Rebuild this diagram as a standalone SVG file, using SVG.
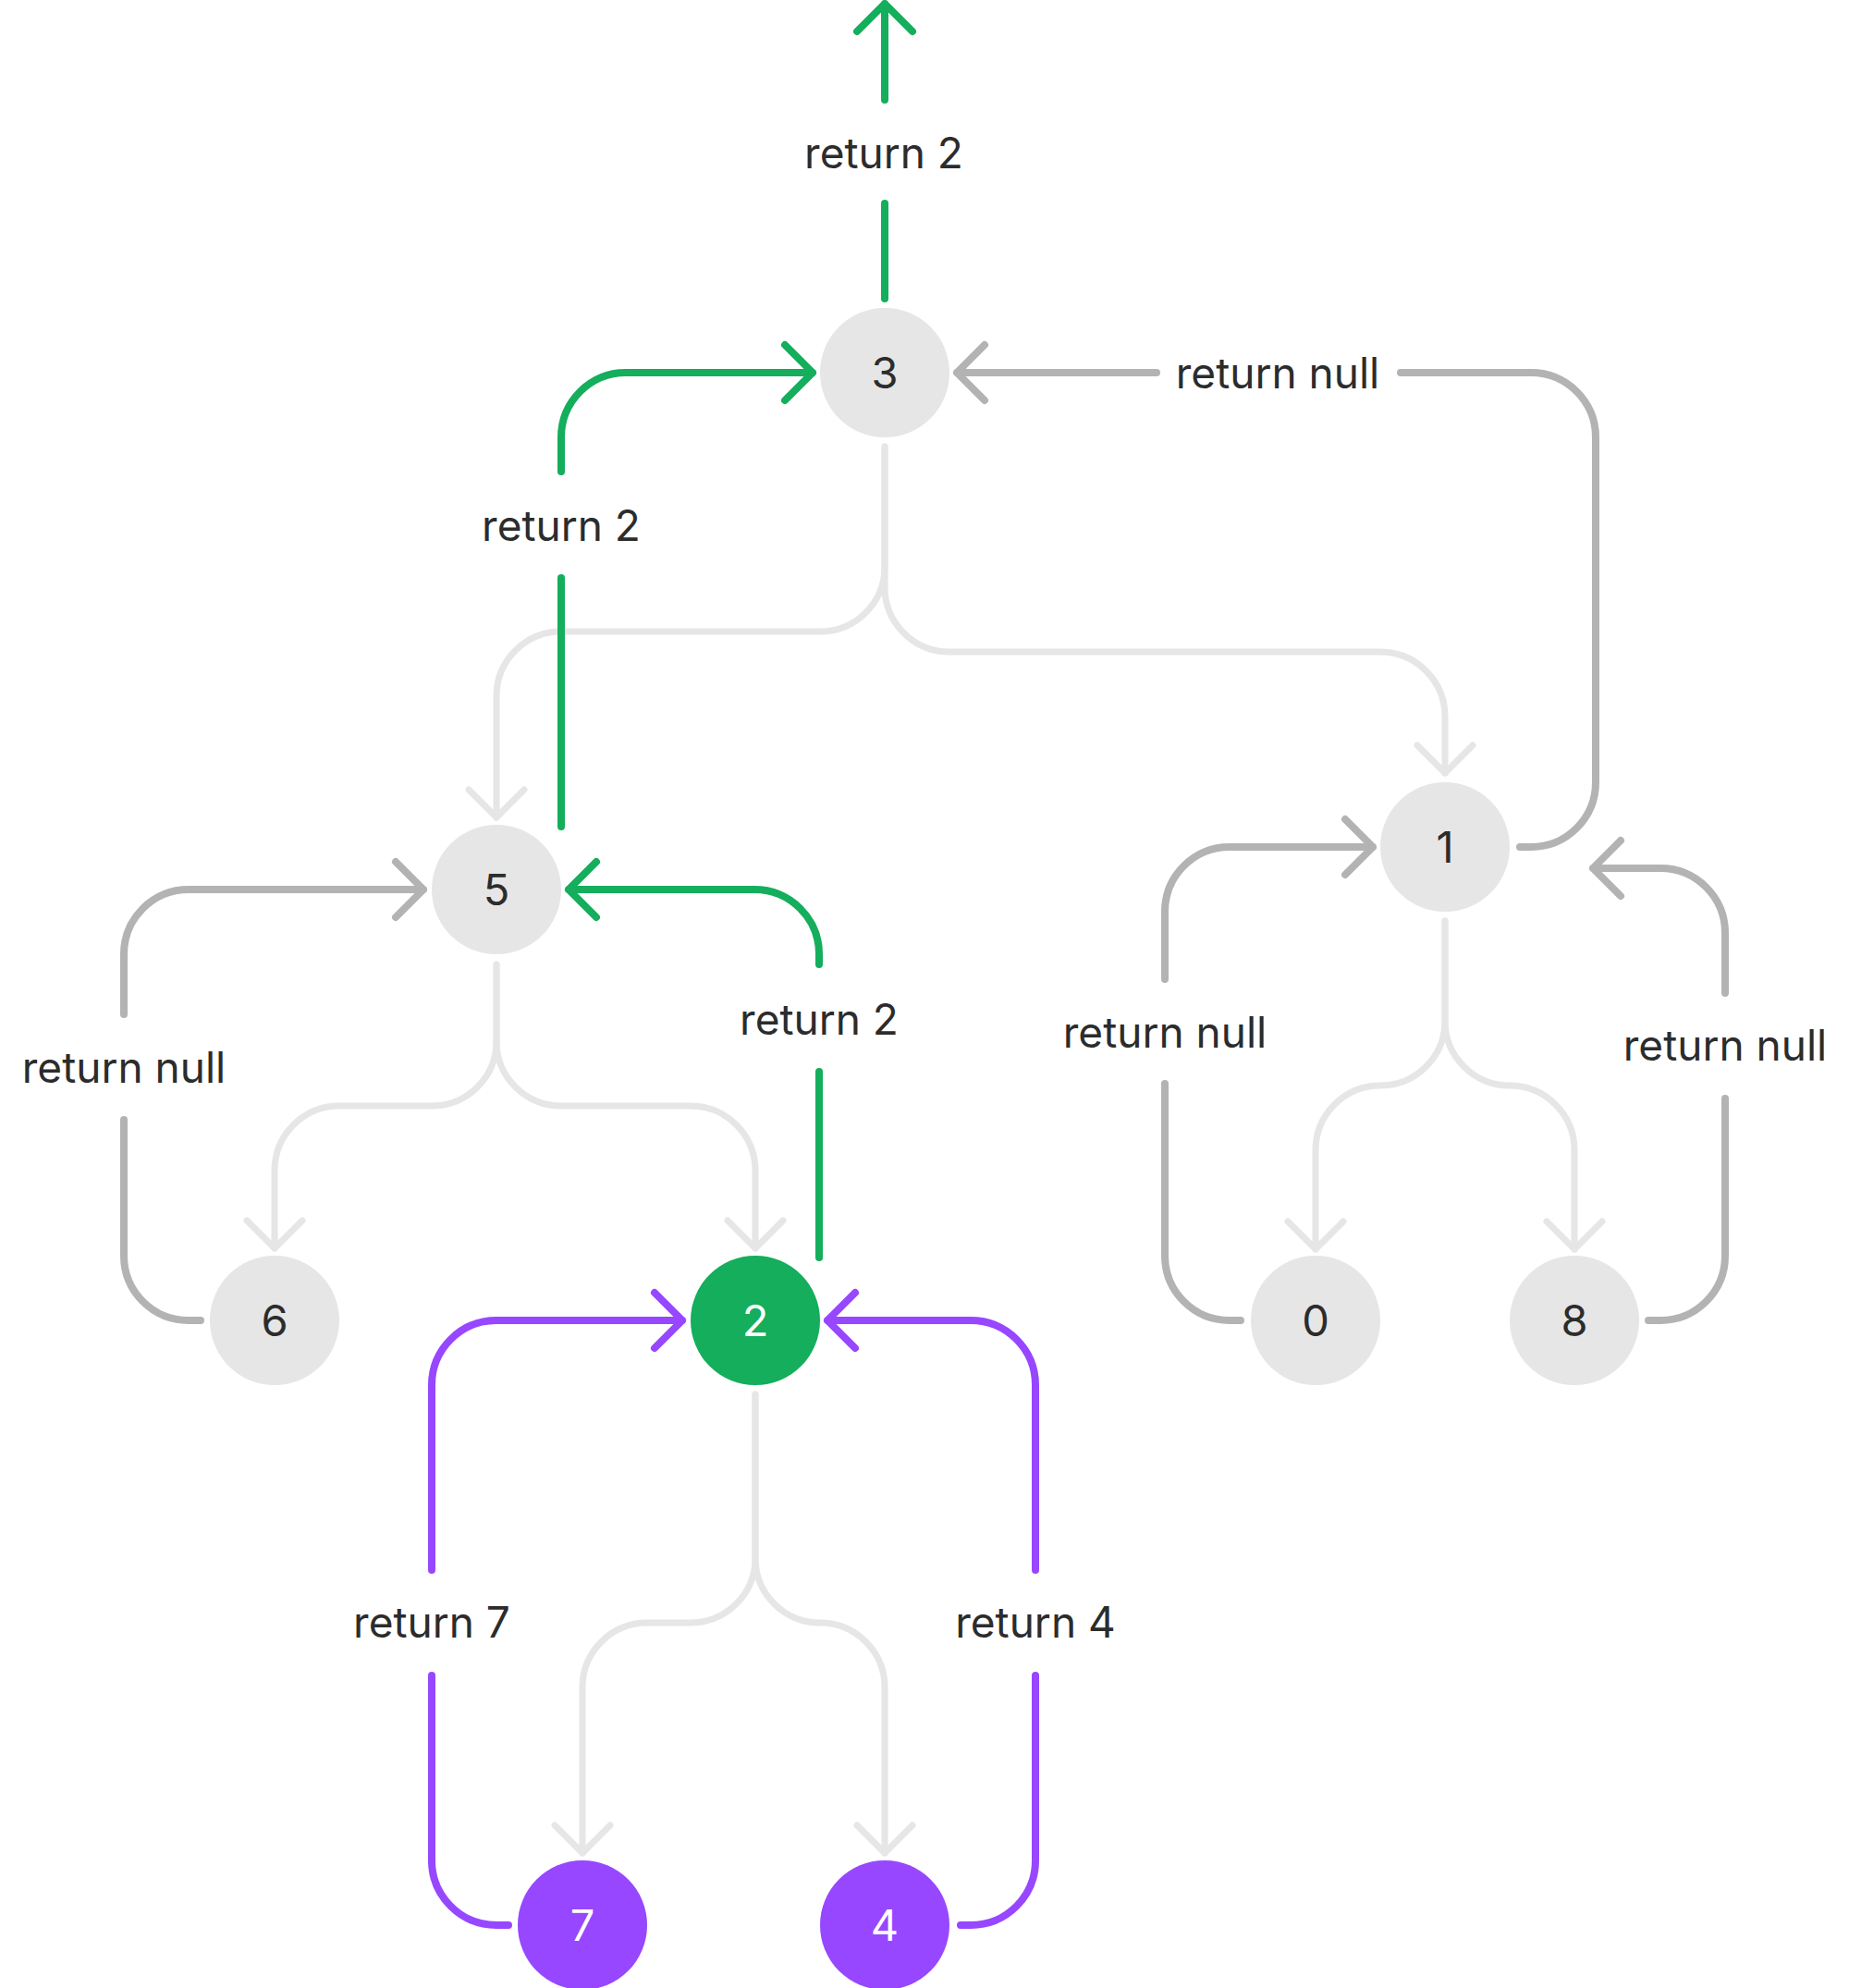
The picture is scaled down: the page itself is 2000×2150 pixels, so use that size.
<svg xmlns="http://www.w3.org/2000/svg" width="2000" height="2150" viewBox="0 0 2000 2150">
<style>
.tree{fill:none;stroke:#E6E6E6;stroke-width:7;stroke-linecap:round;stroke-linejoin:round}
.ret{fill:none;stroke-width:8;stroke-linecap:round;stroke-linejoin:round}
.g{stroke:#14AE5C}.p{stroke:#9747FF}.n{stroke:#B3B3B3}
.lbl{font-family:Inter,"Noto Sans","Liberation Sans",sans-serif;font-size:46px;fill:#2C2C2C;text-anchor:middle}
.node circle{fill:#E6E6E6}
.node text{font-family:Inter,"Noto Sans","Liberation Sans",sans-serif;font-size:47px;fill:#2C2C2C;text-anchor:middle}
.node.green circle{fill:#14AE5C}.node.purple circle{fill:#9747FF}
.node.green text,.node.purple text{fill:#FFFFFF}
</style>
<rect width="2000" height="2150" fill="#FFFFFF"/>
<g id="connectors">
<path class="tree" d="M957,483 V613 A70,70 0 0 1 887,683 H607 A70,70 0 0 0 537,753 V884"/>
<path class="tree" d="M507,854 L537,884 L567,854"/>
<path class="tree" d="M957,483 V635 A70,70 0 0 0 1027,705 H1493 A70,70 0 0 1 1563,775 V836"/>
<path class="tree" d="M1533,806 L1563,836 L1593,806"/>
<path class="tree" d="M537,1043 V1126 A70,70 0 0 1 467,1196 H367 A70,70 0 0 0 297,1266 V1350"/>
<path class="tree" d="M267,1320 L297,1350 L327,1320"/>
<path class="tree" d="M537,1043 V1126 A70,70 0 0 0 607,1196 H747 A70,70 0 0 1 817,1266 V1350"/>
<path class="tree" d="M787,1320 L817,1350 L847,1320"/>
<path class="tree" d="M1563,996 V1104 A70,70 0 0 1 1493,1174 A70,70 0 0 0 1423,1244 V1351"/>
<path class="tree" d="M1393,1321 L1423,1351 L1453,1321"/>
<path class="tree" d="M1563,996 V1104 A70,70 0 0 0 1633,1174 A70,70 0 0 1 1703,1244 V1351"/>
<path class="tree" d="M1673,1321 L1703,1351 L1733,1321"/>
<path class="tree" d="M817,1508 V1685 A70,70 0 0 1 747,1755 H700 A70,70 0 0 0 630,1825 V2004"/>
<path class="tree" d="M600,1974 L630,2004 L660,1974"/>
<path class="tree" d="M817,1508 V1685 A70,70 0 0 0 887,1755 A70,70 0 0 1 957,1825 V2004"/>
<path class="tree" d="M927,1974 L957,2004 L987,1974"/>

<path class="ret g" d="M957,323 V220"/>
<path class="ret g" d="M957,108 V4 M927,34 L957,4 L987,34"/>
<path class="ret g" d="M607,894 V625"/>
<path class="ret g" d="M607,510 V473 A70,70 0 0 1 677,403 H879 M849,373 L879,403 L849,433"/>
<path class="ret n" d="M1644,916 H1656 A70,70 0 0 0 1726,846 V473 A70,70 0 0 0 1656,403 H1515"/>
<path class="ret n" d="M1251,403 H1035 M1065,373 L1035,403 L1065,433"/>
<path class="ret n" d="M217,1428 H204 A70,70 0 0 1 134,1358 V1211"/>
<path class="ret n" d="M134,1097 V1032 A70,70 0 0 1 204,962 H458 M428,932 L458,962 L428,992"/>
<path class="ret g" d="M886,1360 V1159"/>
<path class="ret g" d="M886,1043 V1032 A70,70 0 0 0 816,962 H615 M645,932 L615,962 L645,992"/>
<path class="ret n" d="M1342,1428 H1330 A70,70 0 0 1 1260,1358 V1172"/>
<path class="ret n" d="M1260,1059 V986 A70,70 0 0 1 1330,916 H1485 M1455,886 L1485,916 L1455,946"/>
<path class="ret n" d="M1783,1428 H1796 A70,70 0 0 0 1866,1358 V1188"/>
<path class="ret n" d="M1866,1074 V1009 A70,70 0 0 0 1796,939 H1723 M1753,909 L1723,939 L1753,969"/>
<path class="ret p" d="M550,2082 H537 A70,70 0 0 1 467,2012 V1812"/>
<path class="ret p" d="M467,1698 V1498 A70,70 0 0 1 537,1428 H738 M708,1398 L738,1428 L708,1458"/>
<path class="ret p" d="M1039,2082 H1050 A70,70 0 0 0 1120,2012 V1812"/>
<path class="ret p" d="M1120,1698 V1498 A70,70 0 0 0 1050,1428 H895 M925,1398 L895,1428 L925,1458"/>

<text class="lbl" x="956" y="182">return 2</text>
<text class="lbl" x="607" y="585">return 2</text>
<text class="lbl" x="1382" y="420">return null</text>
<text class="lbl" x="134" y="1171">return null</text>
<text class="lbl" x="886" y="1119">return 2</text>
<text class="lbl" x="1260" y="1133">return null</text>
<text class="lbl" x="1866" y="1147">return null</text>
<text class="lbl" x="467" y="1771">return 7</text>
<text class="lbl" x="1120" y="1771">return 4</text>
</g>
<g id="node-3" class="node"><circle cx="957" cy="403" r="70"/><text x="957" y="420">3</text></g>
<g id="node-5" class="node"><circle cx="537" cy="962" r="70"/><text x="537" y="979">5</text></g>
<g id="node-1" class="node"><circle cx="1563" cy="916" r="70"/><text x="1563" y="933">1</text></g>
<g id="node-6" class="node"><circle cx="297" cy="1428" r="70"/><text x="297" y="1445">6</text></g>
<g id="node-2" class="node green"><circle cx="817" cy="1428" r="70"/><text x="817" y="1445">2</text></g>
<g id="node-0" class="node"><circle cx="1423" cy="1428" r="70"/><text x="1423" y="1445">0</text></g>
<g id="node-8" class="node"><circle cx="1703" cy="1428" r="70"/><text x="1703" y="1445">8</text></g>
<g id="node-7" class="node purple"><circle cx="630" cy="2082" r="70"/><text x="630" y="2099">7</text></g>
<g id="node-4" class="node purple"><circle cx="957" cy="2082" r="70"/><text x="957" y="2099">4</text></g>
</svg>
